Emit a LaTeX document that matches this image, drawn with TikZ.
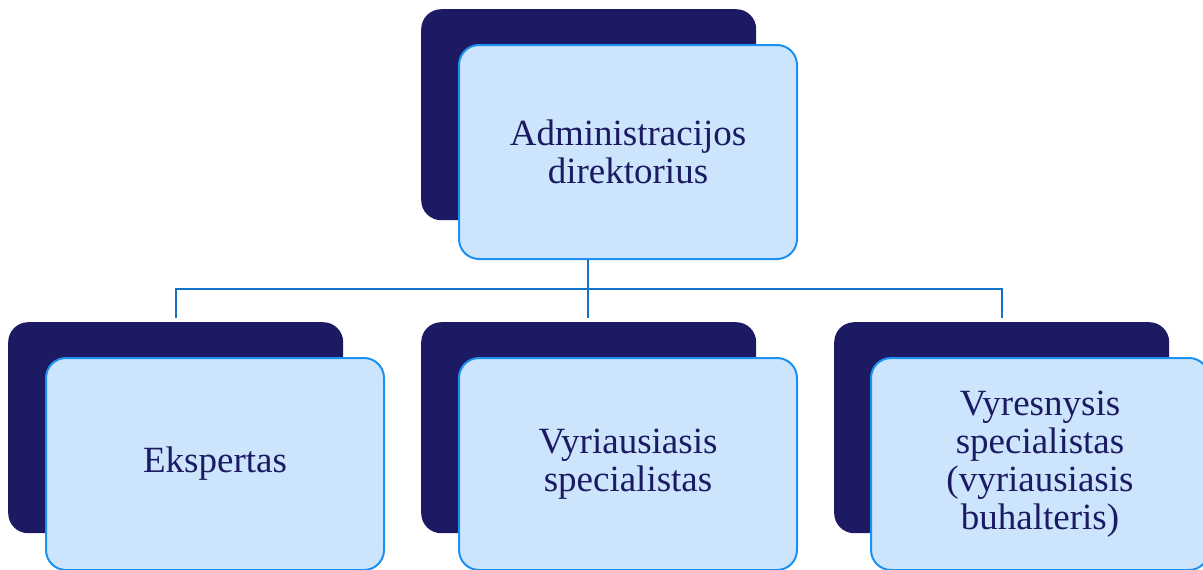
\documentclass[tikz,border=0pt]{standalone}
\usepackage{fontspec}
\setmainfont{Liberation Serif}
\definecolor{navy}{HTML}{1B1A63}
\definecolor{paleblue}{HTML}{CCE5FC}
\definecolor{edgeblue}{HTML}{1E90F0}
\definecolor{linkblue}{HTML}{1470C8}
\begin{document}
\begin{tikzpicture}[x=1pt,y=-1pt,
  backbox/.style={rectangle,rounded corners=20pt,fill=navy,draw=none,inner sep=0pt,
    minimum width=335pt,minimum height=211pt,anchor=north west},
  frontbox/.style={rectangle,rounded corners=20pt,fill=paleblue,draw=edgeblue,line width=2pt,
    inner sep=0pt,minimum width=338pt,anchor=north west,align=center,text=navy,
    font=\fontsize{37}{38}\selectfont},
  link/.style={draw=linkblue,line width=2.8pt}]
\useasboundingbox (0,0) rectangle (1203,570);
\clip (0,0) rectangle (1203,570);
\node[backbox] (b0) at (421,9) {};
\node[frontbox,minimum height=214pt] (f0) at (458,44) {Administracijos\\direktorius};
\coordinate (j) at (588,289);
\coordinate (d1) at (176,318);
\coordinate (d2) at (588,318);
\coordinate (d3) at (1002,318);
\draw[link] (f0.south -| j) -- (j);
\draw[link] (d1) |- (j) -| (d3);
\draw[link] (j) -- (d2);
\node[backbox] (b1) at (8,322) {};
\node[frontbox,minimum height=212pt] (f1) at (45,357) {Ekspertas};
\node[backbox] (b2) at (421,322) {};
\node[frontbox,minimum height=212pt] (f2) at (458,357) {Vyriausiasis\\specialistas};
\node[backbox] (b3) at (834,322) {};
\node[frontbox,minimum height=212pt] (f3) at (870,357) {Vyresnysis\\specialistas\\(vyriausiasis\\buhalteris)};
\end{tikzpicture}
\end{document}
